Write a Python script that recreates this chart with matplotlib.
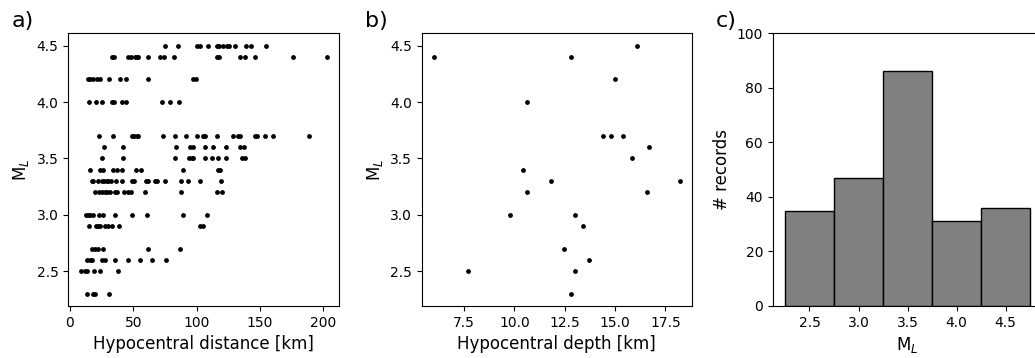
import numpy as np
import matplotlib.pyplot as plt

# panel a: hypocentral distance per magnitude row
ml_rows = [4.5, 4.4, 4.2, 4.0, 3.7, 3.6, 3.5, 3.4, 3.3, 3.2, 3.0, 2.9, 2.7, 2.6, 2.5, 2.3]
dist_rows = [
    [75, 85, 100, 103, 109, 116, 118, 121, 124, 126, 130, 139, 143, 155],
    [33, 35, 46, 48, 51, 53, 54, 62, 71, 74, 82, 116, 118, 134, 138, 146, 176, 203],
    [14.5, 16, 18, 21, 24, 31, 39.5, 44, 62, 97, 99.5],
    [15, 20.5, 25.5, 33, 35, 41, 44, 73, 79, 86],
    [22.6, 33.7, 48.7, 50.5, 52.6, 54, 73.7, 83, 91.6, 100.5, 104.7, 106.6, 116, 129, 133, 134,
     146, 148, 154, 160.5, 189],
    [27, 42, 83.7, 94.7, 96.8, 106.6, 112.6, 123, 134, 137.6],
    [25.5, 42, 83, 94, 96, 97, 106.6, 112, 117, 123, 135.5, 138],
    [16, 24, 26, 33.7, 37, 41, 52, 56, 89.5, 117, 118.4],
    [17, 18.4, 22, 25, 27, 29, 30, 32, 36, 41, 48.7, 50.5, 60, 62, 67, 69, 75, 88, 93, 103, 119],
    [19.7, 23, 25.5, 27.6, 29.5, 31.6, 35.5, 37, 43, 46, 48, 59, 88, 116, 120],
    [13, 14.5, 16, 18, 23, 26, 35.5, 48.7, 60.5, 89, 108],
    [15, 20.5, 22, 24, 28, 30, 33, 39, 102.6, 104.7],
    [17, 19.7, 22, 26, 62, 87],
    [13.7, 16, 17.6, 25, 27.6, 35.8, 46, 55, 64.5, 76],
    [8.4, 11.8, 13.7, 19, 23.7, 38],
    [13.7, 18.4, 19.7, 31],
]

# panel b: hypocentral depth vs magnitude
depth = [6.0, 7.67, 9.78, 10.4, 10.6, 10.6, 11.8, 12.48, 12.8, 12.8, 13.0, 13.0, 13.4, 13.7,
         14.4, 14.8, 14.98, 15.4, 15.83, 16.08, 16.6, 16.7, 18.2]
ml_depth = [4.4, 2.5, 3.0, 3.4, 4.0, 3.2, 3.3, 2.7, 4.4, 2.3, 3.0, 2.5, 2.9, 2.6,
            3.7, 3.7, 4.2, 3.7, 3.5, 4.5, 3.2, 3.6, 3.3]

# panel c: histogram of records
bin_edges = [2.25, 2.75, 3.25, 3.75, 4.25, 4.75]
counts = [35, 47, 86, 31, 36]

dist = np.concatenate([np.array(d, dtype=float) for d in dist_rows])
ml = np.concatenate([np.full(len(d), m) for m, d in zip(ml_rows, dist_rows)])

fig = plt.figure(figsize=(10.35, 3.58), dpi=100)
bot, h = 0.1453, 0.7617
ax1 = fig.add_axes([0.066, bot, 0.2618, h])
ax2 = fig.add_axes([0.4074, bot, 0.261, h])
ax3 = fig.add_axes([0.7466, bot, 0.2605, h])

ax1.scatter(dist, ml, s=6, c='k')
ax1.set_xlabel("Hypocentral distance [km]", fontsize=12)
ax1.set_ylabel("M$_L$", fontsize=12)

ax2.scatter(depth, ml_depth, s=6, c='k')
ax2.set_xlabel("Hypocentral depth [km]", fontsize=12)
ax2.set_ylabel("M$_L$", fontsize=12)

widths = np.diff(bin_edges)
ax3.bar(bin_edges[:-1], counts, width=widths, align='edge', color='grey', edgecolor='k')
ax3.set_ylim(0, 100)
ax3.set_xlabel("M$_L$", fontsize=12)
ax3.set_ylabel("# records", fontsize=12)

for ax in (ax1, ax2):
    ax.set_yticks([2.5, 3.0, 3.5, 4.0, 4.5])
for ax, lab in zip((ax1, ax2, ax3), ["a)", "b)", "c)"]):
    ax.tick_params(labelsize=10)
    ax.text(-0.21, 1.023, lab, transform=ax.transAxes, fontsize=16, va='baseline')

plt.savefig("out.png", dpi=100)
